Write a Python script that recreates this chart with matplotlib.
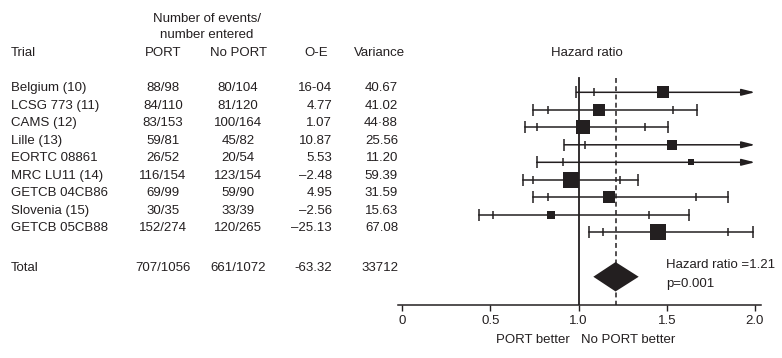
import numpy as np
import matplotlib
matplotlib.use('Agg')
import matplotlib.pyplot as plt
from matplotlib.transforms import blended_transform_factory

plt.rcParams['font.family'] = ['Liberation Sans', 'DejaVu Sans']
ink = '#231f20'

# table data
trials = ['Belgium (10)', 'LCSG 773 (11)', 'CAMS (12)', 'Lille (13)', 'EORTC 08861',
          'MRC LU11 (14)', 'GETCB 04CB86', 'Slovenia (15)', 'GETCB 05CB88']
port = ['88/98', '84/110', '83/153', '59/81', '26/52', '116/154', '69/99', '30/35', '152/274']
noport = ['80/104', '81/120', '100/164', '45/82', '20/54', '123/154', '59/90', '33/39', '120/265']
oe = ['16-04', '4.77', '1.07', '10.87', '5.53', '\u20132.48', '4.95', '\u20132.56', '\u201325.13']
variance_txt = ['40.67', '41.02', '44\u00b788', '25.56', '11.20', '59.39', '31.59', '15.63', '67.08']
variance = [40.67, 41.02, 44.88, 25.56, 11.20, 59.39, 31.59, 15.63, 67.08]
total = ['Total', '707/1056', '661/1072', '-63.32', '33712']

# hazard ratios with inner (95%) and outer (99%) limits
hr = [1.48, 1.118, 1.024, 1.53, 1.637, 0.959, 1.173, 0.846, 1.452]
lo99 = [0.988, 0.744, 0.699, 0.920, 0.763, 0.687, 0.744, 0.438, 1.061]
lo95 = [1.09, 0.829, 0.763, 1.039, 0.914, 0.744, 0.829, 0.517, 1.141]
hi95 = [None, 1.533, 1.375, None, None, 1.237, 1.664, 1.398, 1.849]
hi99 = [None, 1.673, 1.509, None, None, 1.339, 1.849, 1.628, 1.99]
arrow_to = 2.0
hr_total, lo_total, hi_total = 1.21, 1.084, 1.341

W, H = 782, 358
fig = plt.figure(figsize=(W / 100, H / 100), dpi=100)
ax = fig.add_axes([398 / W, 1 - 305 / H, (761 - 398) / W, 305 / H])
# row i sits at 92.3 + 17.5*i px from the top
ax.set_ylim((305 - 92.3) / 17.5, -92.3 / 17.5)
ax.set_xlim(-4 / 176.5, (761 - 402) / 176.5)

rows = np.arange(len(trials))
total_row = 10.54

for i in rows:
    y = rows[i]
    if hi99[i] is None:
        ax.annotate('', xy=(arrow_to, y), xytext=(lo99[i], y),
                    arrowprops=dict(arrowstyle='-|>,head_length=0.8,head_width=0.2',
                                    lw=1.1, color=ink, shrinkA=0, shrinkB=0))
    else:
        ax.plot([lo99[i], hi99[i]], [y, y], color=ink, lw=1.1)
    outer = [lo99[i]] + ([hi99[i]] if hi99[i] is not None else [])
    inner = [lo95[i]] + ([hi95[i]] if hi95[i] is not None else [])
    ax.plot(outer, [y] * len(outer), ls='none', marker='|', ms=8, mew=1.1, color=ink)
    ax.plot(inner, [y] * len(inner), ls='none', marker='|', ms=6, mew=1.1, color=ink)
    ax.plot(hr[i], y, ls='none', marker='s', ms=1.46 * np.sqrt(variance[i]),
            mew=0, color=ink, zorder=4)

# pooled diamond
dh = 0.84
ax.fill([lo_total, hr_total, hi_total, hr_total],
        [total_row, total_row - dh, total_row, total_row + dh], color=ink, lw=0, zorder=4)

top = -0.82
ax.plot([1.0, 1.0], [top, 20], color=ink, lw=1.3, zorder=3)
ax.plot([hr_total, hr_total], [top, 20], color=ink, lw=1.1, ls=(0, (3.2, 2.2)), zorder=3)

for s in ['top', 'right', 'left']:
    ax.spines[s].set_visible(False)
ax.spines['bottom'].set_color(ink)
ax.spines['bottom'].set_linewidth(1.1)
ax.set_yticks([])
ax.set_xticks([0, 0.5, 1.0, 1.5, 2.0])
ax.set_xticklabels(['0', '0.5', '1.0', '1.5', '2.0'])
ax.tick_params(axis='x', direction='out', length=4, width=1, color=ink,
               labelsize=9.5, labelcolor=ink, pad=3)

ax.text(1.495, total_row - 0.65, 'Hazard ratio =1.21', fontsize=9.5, color=ink,
        va='center', ha='left')
ax.text(1.495, total_row + 0.4, 'p=0.001', fontsize=9.5, color=ink, va='center', ha='left')
ax.text(1.05, -2.25, 'Hazard ratio', fontsize=9.5, color=ink, va='center', ha='center')

fig.text(570 / W, 1 - 340 / H, 'PORT better', fontsize=9.5, color=ink, ha='right', va='center')
fig.text(581 / W, 1 - 340 / H, 'No PORT better', fontsize=9.5, color=ink, ha='left', va='center')

# table text, x in figure pixels, y in row units
tr = blended_transform_factory(fig.transFigure, ax.transData)
off = -0.23
fs = 9.5


def cell(xpx, y, s, ha):
    ax.text(xpx / W, y, s, transform=tr, fontsize=fs, color=ink, ha=ha, va='center',
            clip_on=False)


cell(207, -4.19, 'Number of events/', 'center')
cell(207, -3.27, 'number entered', 'center')
cell(11, -2.25, 'Trial', 'left')
cell(163, -2.25, 'PORT', 'center')
cell(238, -2.25, 'No PORT', 'center')
cell(316, -2.25, 'O-E', 'center')
cell(354, -2.25, 'Variance', 'left')

for i in rows:
    y = rows[i] + off
    cell(11, y, trials[i], 'left')
    cell(163, y, port[i], 'center')
    cell(238, y, noport[i], 'center')
    cell(332, y, oe[i], 'right')
    cell(398, y, variance_txt[i], 'right')

yt = total_row - 0.48
cell(11, yt, total[0], 'left')
cell(163, yt, total[1], 'center')
cell(238, yt, total[2], 'center')
cell(332, yt, total[3], 'right')
cell(398, yt, total[4], 'right')

fig.savefig('out.png', dpi=100)
